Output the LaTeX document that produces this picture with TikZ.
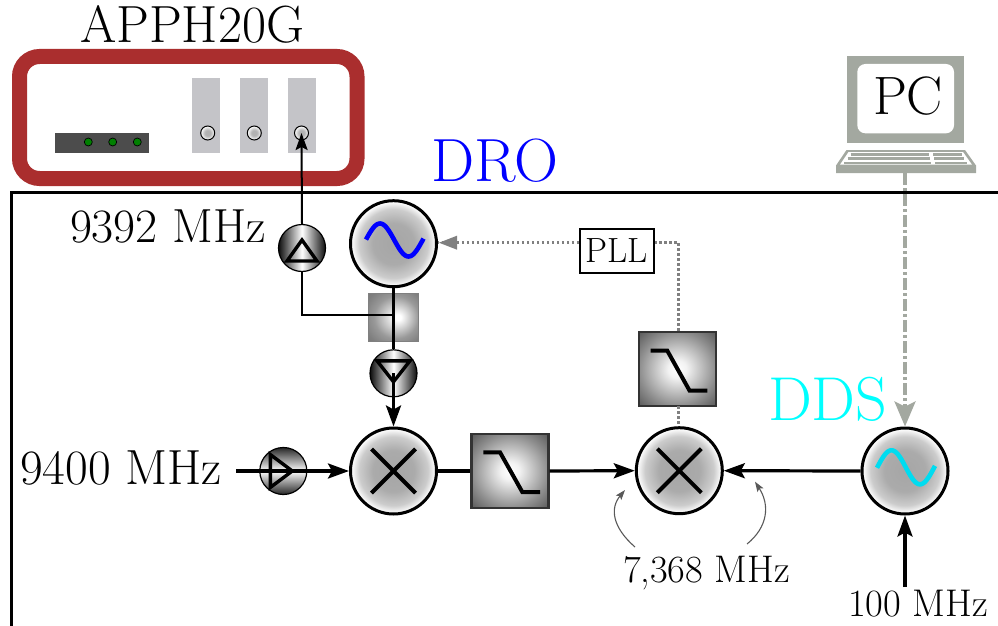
\documentclass[tikz,border=0pt]{standalone}
\usetikzlibrary{arrows.meta,calc}
\definecolor{boxred}{RGB}{170,46,46}
\definecolor{slotgray}{RGB}{196,196,200}
\definecolor{pcgray}{RGB}{163,168,160}
\definecolor{sinecyan}{RGB}{0,220,240}
\definecolor{ddscyan}{RGB}{0,255,255}
\definecolor{droblue}{RGB}{0,0,255}
\pgfdeclareradialshading{ballshade}{\pgfpoint{0bp}{0bp}}{color(0bp)=(black!35); color(12bp)=(black!33); color(20bp)=(black!20); color(24.5bp)=(white); color(50bp)=(white)}
\pgfdeclareradialshading{filtershade}{\pgfpoint{0bp}{0bp}}{color(0bp)=(white); color(6bp)=(white!95!black); color(25bp)=(black!45); color(35.4bp)=(black!65); color(50bp)=(black!65)}
\pgfdeclareradialshading{couplshade}{\pgfpoint{5bp}{0bp}}{color(0bp)=(white); color(3bp)=(white); color(22bp)=(black!40); color(32bp)=(black!50); color(50bp)=(black!60)}
\pgfdeclareradialshading{portshade}{\pgfpoint{0bp}{0bp}}{color(0bp)=(black!30); color(10bp)=(black!30); color(25bp)=(white); color(50bp)=(white)}
\newcommand{\fs}[1]{\fontsize{#1}{#1}\selectfont}
\tikzset{
  x=1pt,y=-1pt,
  lab/.style={inner sep=0pt,outer sep=0pt,anchor=base west},
  ball/.style={circle,draw=black,line width=3pt,minimum size=86pt,inner sep=0pt,shading=ballshade},
  ampv/.style={circle,draw=black,line width=1.2pt,minimum size=47pt,inner sep=0pt,left color=black!95,right color=black!95,middle color=white},
  amph/.style={circle,draw=black,line width=1.2pt,minimum size=47pt,inner sep=0pt,top color=black!85,bottom color=black!85,middle color=white},
  filt/.style={rectangle,draw=black!80,line width=2.2pt,minimum width=77pt,minimum height=74pt,inner sep=0pt,shading=filtershade},
  coupl/.style={rectangle,draw=black!50,line width=1.2pt,minimum width=50pt,minimum height=48pt,inner sep=0pt,shading=couplshade},
  slot/.style={rectangle,fill=slotgray,minimum width=28pt,minimum height=75pt,inner sep=0pt},
  port/.style={circle,draw=black,line width=1pt,minimum size=14pt,inner sep=0pt,shading=portshade},
  led/.style={circle,draw=black,line width=.7pt,fill=green!50!black,minimum size=8pt,inner sep=0pt},
  thick3/.style={line width=3.2pt,black},
  thin2/.style={line width=2pt,black},
  tipb/.style={-{Stealth[length=21pt,width=15pt,inset=4pt]}},
  sym/.style={line width=4pt,black},
  ctrl/.style={line width=2.5pt,draw=black!50,dash pattern=on 2.5pt off 2.5pt},
  note/.style={line width=1.1pt,draw=black!65,-{Stealth[length=10pt,width=7pt,inset=2pt]}},
  keybar/.style={line width=2.4pt,draw=pcgray},
}
\begin{document}
\begin{tikzpicture}
\useasboundingbox (0,0) rectangle (998,626);
% instrument
\node[draw=boxred,line width=15pt,rounded corners=20pt,minimum width=337.5pt,minimum height=122pt,inner sep=0pt] (apph) at (188.25,117.5) {};
\node[rectangle,fill=black!70,minimum width=94pt,minimum height=20pt,inner sep=0pt] (panel) at (102,143) {};
\node[led] (l1) at (88.3,142) {};
\node[led] (l2) at (112.7,142) {};
\node[led] (l3) at (137.3,142) {};
\node[slot] (s1) at (206,115.5) {};
\node[slot] (s2) at (254,115.5) {};
\node[slot] (s3) at (302,115.5) {};
\node[port] (p1) at (207.7,133) {};
\node[port] (p2) at (254.3,133) {};
\node[port] (p3) at (301.5,133) {};
\node[lab,font=\fs{52.3}] (tapph) at (80,43) {APPH20G};
% frame
\coordinate (fa) at (11,626);
\coordinate (fb) at (11,192.5);
\coordinate (fc) at (998,192.5);
\draw[line width=3pt,line join=miter] (fa) -- (fb) -- (fc);
% PC
\path[fill=pcgray] (846.7,56) rectangle (964.3,143.3);
\path[fill=white,rounded corners=8pt] (857.3,64) rectangle (954,133.3);
\node[lab,font=\fs{54}] (tpc) at (873,114) {PC};
\path[fill=pcgray] (846.5,150) -- (965,150) -- (976,165.5) -- (976,173) -- (836,173) -- (836,165.5) -- cycle;
\path[fill=white] (848.5,152) -- (963,152) -- (972,164.7) -- (840,164.7) -- cycle;
\draw[keybar] (850.7,154.6) -- (929,154.6) (933,154.6) -- (961.7,154.6);
\draw[keybar] (847.5,158.6) -- (930,158.6) (934,158.6) -- (964,158.6);
\draw[keybar] (844,162.8) -- (931,162.8) (935,162.8) -- (967,162.8);
\coordinate (pcout) at (905,173);
% main nodes
\node[ball] (dro) at (393.5,243.7) {};
\node[ball] (mixa) at (393.5,471) {};
\node[ball] (mixb) at (679.3,470.7) {};
\node[ball] (dds) at (905,471) {};
\node[filt] (fa1) at (510,471) {};
\node[filt] (fb1) at (677.3,369) {};
\node[coupl] (cp) at (393.3,317.3) {};
\node[ampv] (ampa) at (302,248) {};
\node[ampv] (ampb) at (393.5,373.3) {};
\node[amph] (ampc) at (283.3,471) {};
\node[rectangle,draw=black,line width=1.6pt,fill=white,minimum width=74pt,minimum height=43.5pt,inner sep=0pt,font=\fs{35}] (pll) at (617,251) {PLL};
% signal path
\coordinate (cj) at (393.3,315);
\coordinate (cc) at (302,315);
\coordinate (ain) at (236,471);
\coordinate (clk) at (905,587);
\draw[thin2] (cj) -- (cc) -- (ampa.south);
\draw[thin2,-{Stealth[length=17pt,width=12pt,inset=3pt]}] (ampa.north) -- (p3.center);
\draw[thick3] (dro.south) -- (ampb.north);
\draw[thick3,tipb] (ampb.center) -- (mixa.north);
\draw[thick3,tipb] (ain) -- (mixa.west);
\draw[thick3] (mixa.east) -- (fa1.west);
\draw[thick3,tipb] (fa1.east) -- (mixb.west);
\draw[thick3,tipb] (dds.west) -- (mixb.east);
\draw[thick3,tipb] (clk) -- (dds.south);
% amplifier triangles
\draw[line width=3.4pt,line join=miter] ($(ampa.center)+(-15,13)$) -- ($(ampa.center)+(15,13)$) -- ($(ampa.center)+(0,-8)$) -- cycle;
\draw[line width=3.4pt,line join=miter] ($(ampb.center)+(-16.5,-12.5)$) -- ($(ampb.center)+(16.5,-12.5)$) -- ($(ampb.center)+(0,8.5)$) -- cycle;
\draw[line width=3.4pt,line join=miter] ($(ampc.center)+(-13,-16.5)$) -- ($(ampc.center)+(-13,16.5)$) -- ($(ampc.center)+(9,0)$) -- cycle;
% mixer crosses
\draw[sym] ($(mixa.center)+(-22,-22)$) -- ($(mixa.center)+(22,22)$) ($(mixa.center)+(22,-22)$) -- ($(mixa.center)+(-22,22)$);
\draw[sym] ($(mixb.center)+(-22,-22)$) -- ($(mixb.center)+(22,22)$) ($(mixb.center)+(22,-22)$) -- ($(mixb.center)+(-22,22)$);
% filter symbols
\draw[sym,line join=miter] ($(fa1.center)+(-26.7,-18.7)$) -- ($(fa1.center)+(-10,-18.7)$) -- ($(fa1.center)+(12.3,21)$) -- ($(fa1.center)+(30,21)$);
\draw[sym,line join=miter] ($(fb1.center)+(-26.7,-18.3)$) -- ($(fb1.center)+(-10,-18.3)$) -- ($(fb1.center)+(12.3,21.7)$) -- ($(fb1.center)+(30,21.7)$);
% sines
\draw[line width=4.6pt,droblue,shift={(393.5,240)}] plot[domain=-27.5:30,samples=50,smooth] (\x,{-16.5*cos(180*(\x+13.5)/28.5)});
\draw[line width=4.6pt,sinecyan,shift={(905,467.3)}] plot[domain=-28:30,samples=50,smooth] (\x,{-17*cos(180*(\x+13.5)/28.5)});
% control paths
\coordinate (pa) at (678.5,242.7);
\draw[ctrl] (678.5,406) -- (678.5,426);
\draw[ctrl] (fb1.north -| pa) -- (pa) -- (pll.east |- pa);
\draw[ctrl] (pll.west |- pa) -- (dro.east |- pa);
\path (pll.west |- pa) -- (dro.east |- pa) coordinate[pos=1] (droin);
\path[fill=black!50] (droin) ++(1,0) -- ++(18,-7) -- ++(0,14) -- cycle;
\draw[line width=3.2pt,pcgray,dash pattern=on 12pt off 3pt on 3pt off 3pt,-{Stealth[length=25pt,width=21pt,inset=5pt]}] (pcout) -- (dds.north);
% notes
\coordinate (na) at (635,547);
\coordinate (nb) at (747,544);
\coordinate (nat) at (625,490);
\coordinate (nbt) at (755,481.7);
\draw[note] (na) .. controls (612,527) and (610,508) .. (nat);
\draw[note] (nb) .. controls (768,527) and (770,505) .. (nbt);
% labels
\node[lab,font=\fs{47.9}] (t1) at (70,242) {9392 MHz};
\node[lab,font=\fs{49.4}] (t2) at (20,484) {9400 MHz};
\node[lab,font=\fs{61}] (t3) at (431,181) {\color{droblue}DRO};
\node[lab,font=\fs{62}] (t4) at (768,420) {\color{ddscyan}DDS};
\node[lab,font=\fs{38.5}] (t5) at (623,582) {7,368 MHz};
\node[lab,font=\fs{38.6}] (t6) at (848,616) {100 MHz};
\end{tikzpicture}
\end{document}
